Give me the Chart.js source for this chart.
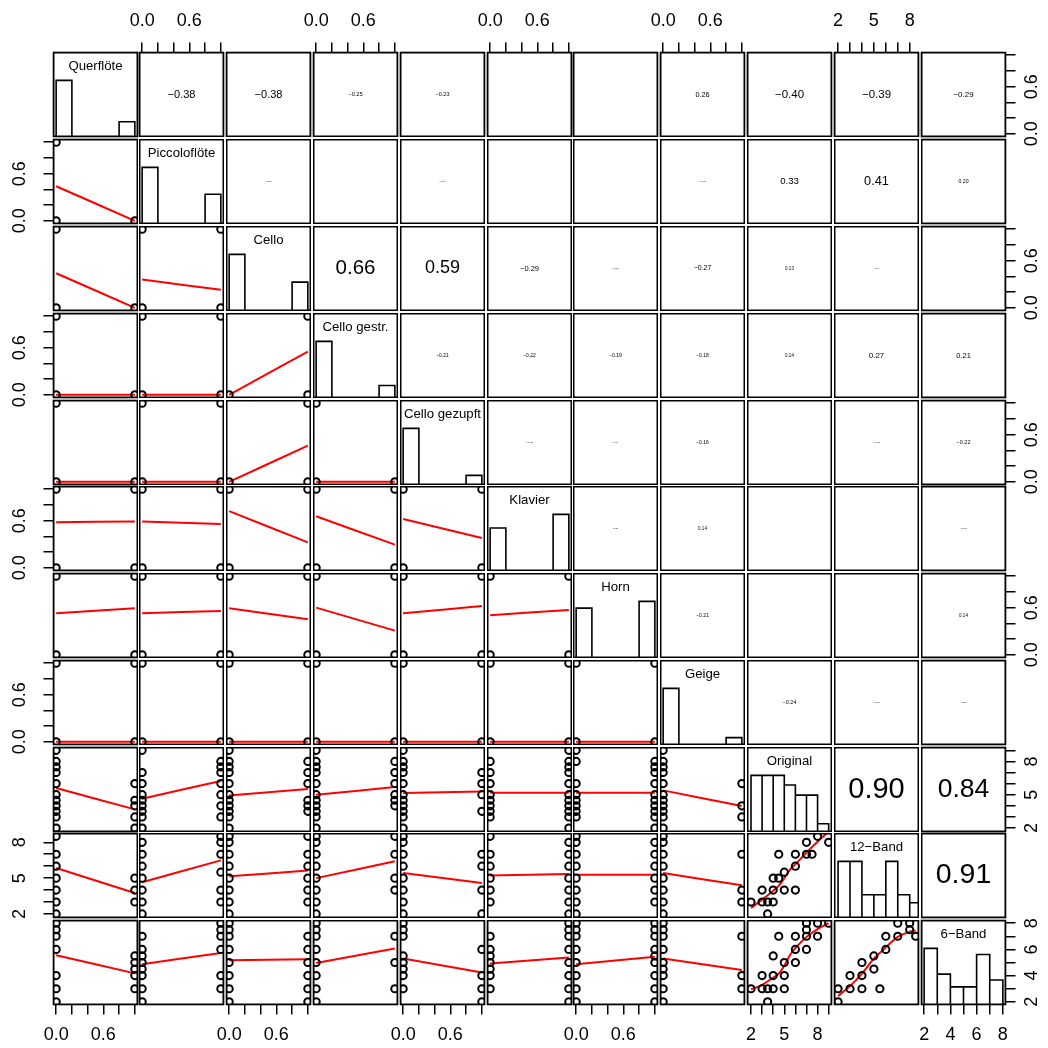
<!DOCTYPE html>
<html>
<head>
<meta charset="utf-8">
<script src="https://cdn.jsdelivr.net/npm/chart.js@4.4.1/dist/chart.umd.min.js"></script>
<style>
  html, body { margin: 0; padding: 0; background: #fff; }
  #page { position: relative; width: 1048px; height: 1048px; overflow: hidden; background: #fff; }
  #page canvas { position: absolute; }
</style>
</head>
<body>
<div id="page"></div>
<script>
const varNames = ['Querflöte', 'Piccoloflöte', 'Cello', 'Cello gestr.', 'Cello gezupft', 'Klavier', 'Horn', 'Geige', 'Original', '12\u2212Band', '6\u2212Band'];

// axis ranges and ticks
const binRange = [-0.04, 1.04];
const binTicks = [0, 0.2, 0.4, 0.6, 0.8, 1];
const binTickLabels = ['0.0', '', '', '0.6', '', ''];
const originalRange = [1.64, 9.3];
const originalTicks = [2, 3, 4, 5, 6, 7, 8, 9];
const originalTickLabels = ['2', '', '', '5', '', '', '8', ''];
const band12Range = [1.66, 8.78];
const band12Ticks = [2, 3, 4, 5, 6, 7, 8];
const band12TickLabels = ['2', '', '', '5', '', '', '8'];
const band6Range = [1.76, 8.24];
const band6Ticks = [2, 3, 4, 5, 6, 7, 8];
const band6TickLabels = ['2', '', '4', '', '6', '', '8'];

// histograms (bar heights relative to the tallest bar)
const binBreaks = [0, 0.2, 0.4, 0.6, 0.8, 1];
const binHistAt0 = [1, 1, 1, 1, 1, 0.76, 0.88, 1];
const binHistAt1 = [0.27, 0.525, 0.51, 0.22, 0.17, 1, 1, 0.13];
const originalBreaks = [2, 3, 4, 5, 6, 7, 8, 9];
const originalHist = [1, 1, 1, 0.83, 0.65, 0.65, 0.145];
const band12Breaks = [2, 3, 4, 5, 6, 7, 8, 9];
const band12Hist = [1, 1, 0.41, 0.41, 1, 0.41, 0.27];
const band6Breaks = [2, 3, 4, 5, 6, 7, 8];
const band6Hist = [1, 0.545, 0.32, 0.32, 0.89, 0.44];

// upper panels, row by row
const corLabels = [
  '\u22120.38', '\u22120.38', '\u22120.25', '\u22120.23', '', '', '0.26', '\u22120.40', '\u22120.39', '\u22120.29',
  '\u22120.11', '', '\u22120.10', '', '', '\u22120.08', '0.33', '0.41', '0.20',
  '0.66', '0.59', '\u22120.29', '\u22120.11', '\u22120.27', '0.13', '0.11', '',
  '\u22120.21', '\u22120.22', '\u22120.19', '\u22120.18', '0.14', '0.27', '0.21',
  '\u22120.12', '0.09', '\u22120.16', '', '\u22120.12', '\u22120.22',
  '0.08', '0.14', '', '', '\u22120.10',
  '\u22120.21', '', '', '0.14',
  '\u22120.24', '\u22120.11', '\u22120.11',
  '0.90', '0.84',
  '0.91'
];
const corSizes = [
  11, 11, 5.7, 5.5, 0, 0, 7.3, 11.5, 11.5, 8,
  2.5, 0, 2.5, 0, 0, 2.5, 9.6, 12.8, 5.2,
  20.5, 18, 7.5, 2.5, 7, 4.5, 2.5, 0,
  5, 5, 5, 5, 4.5, 8, 7.5,
  2.5, 2.5, 5, 0, 2.5, 5.5,
  2.5, 4.5, 0, 0, 2.5,
  5, 0, 0, 4.5,
  5.5, 2.5, 2.5,
  29, 26.5,
  28.5
];

// binary vs binary: occupied corners (0,0) (0,1) (1,0) (1,1), rows 2..8
const cornerCodes = [
  ['1110'],
  ['1110', '1111'],
  ['1110', '1111', '1011'],
  ['1110', '1111', '1011', '1110'],
  ['1111', '1111', '1111', '1111', '1111'],
  ['1111', '1111', '1111', '1111', '1111', '1111'],
  ['1111', '1111', '1111', '1111', '1111', '1111', '1111']
];

// smoother line ends at x = 0 and x = 1, rows 2..11
const lineStart = [
  [0.44],
  [0.44, 0.36],
  [0, 0, 0],
  [0, 0, 0, 0],
  [0.58, 0.59, 0.72, 0.655, 0.62],
  [0.528, 0.528, 0.592, 0.6, 0.528, 0.503],
  [0, 0, 0, 0, 0, 0, 0],
  [5.6, 4.64, 4.94, 5.0, 5.15, 5.18, 5.18, 5.39],
  [5.85, 4.65, 5.15, 5.0, 5.43, 5.21, 5.29, 5.43],
  [5.55, 4.87, 5.17, 4.97, 5.3, 4.92, 4.87, 5.3]
];
const lineEnd = [
  [0],
  [0, 0.23],
  [0, 0, 0.55],
  [0, 0, 0.46, 0],
  [0.59, 0.557, 0.324, 0.295, 0.38],
  [0.592, 0.558, 0.452, 0.308, 0.621, 0.571],
  [0, 0, 0, 0, 0, 0, 0],
  [3.68, 6.24, 5.51, 5.69, 5.3, 5.18, 5.18, 3.98],
  [3.76, 6.49, 5.63, 6.41, 4.6, 5.35, 5.29, 4.4],
  [4.17, 5.73, 5.25, 6.06, 4.24, 5.38, 5.43, 4.42]
];

// rating values seen at instrument = 0 / = 1
const originalAt0 = [
  [9, 8, 7.5, 7, 6, 5, 4.5, 4, 3.5, 3, 2], [9, 7, 6, 5, 4.5, 4, 3.5, 3, 2],
  [9, 8, 7.5, 7, 6, 5, 4.5, 4, 3.5, 3, 2], [9, 8, 7.5, 7, 6, 5, 4.5, 4, 3.5, 3, 2],
  [9, 8, 7.5, 7, 6, 5, 4.5, 4, 3.5, 3, 2], [8, 7, 6, 5, 4.5, 4, 3.5, 3],
  [9, 8, 6, 5, 4.5, 4, 3.5, 3], [9, 8, 7.5, 7, 6, 5, 4.5, 4, 3.5, 3, 2]
];
const originalAt1 = [
  [6, 4.5, 4, 3, 2], [8, 7.5, 7, 6, 5, 4, 3], [8, 7, 6, 4.5, 4, 3.5], [8, 7, 6, 5, 4.5, 4],
  [7, 6, 5, 3.5], [9, 8, 7.5, 7, 6, 5, 4.5, 4, 3.5, 3, 2], [8, 7.5, 7, 6, 5, 4.5, 4, 3.5, 3, 2], [6, 4, 3]
];
const band12At0 = [
  [8.5, 7, 6, 5, 4, 3, 2], [8, 7, 6, 5, 4, 3, 2], [8.5, 8, 7, 6, 5, 4, 3, 2], [8.5, 8, 7, 6, 5, 4, 3, 2],
  [8.5, 8, 7, 6, 5, 4, 3, 2], [8.5, 7, 6, 5, 4, 3], [8.5, 8, 7, 6, 5, 4, 3, 2], [8.5, 8, 7, 6, 5, 4, 3, 2]
];
const band12At1 = [
  [5, 4, 3], [8.5, 8, 7, 5.5, 4, 3], [8.5, 7, 6, 5, 4, 3], [8.5, 7, 5, 4],
  [7, 6, 4, 2], [8, 7, 6, 5, 4, 3, 2], [8, 7, 6, 5, 4, 3], [7, 4, 3]
];
const band6At0 = [
  [8, 7.5, 7, 6, 4, 3, 2], [7, 6, 5.5, 5, 4.5, 4, 3, 2], [8, 7.5, 7, 6, 5, 4, 3, 2], [8, 7.5, 7, 6, 5, 4, 3, 2],
  [8, 7.5, 7, 5.5, 5, 4.5, 4, 3], [7, 6, 5.5, 5, 4.5, 4, 3], [8, 7.5, 7, 6, 5, 4, 3, 2], [8, 7.5, 7, 6, 5, 4.5, 4, 3, 2]
];
const band6At1 = [
  [5.5, 5, 4.5, 4, 3], [8, 7.5, 7, 6, 4, 3], [7, 6, 5, 4, 3, 2], [7, 5, 3],
  [6, 4, 3, 2], [8, 7.5, 7, 6, 5, 4, 3, 2], [8, 7.5, 7, 6, 5.5, 5, 4, 3, 2], [7, 4, 3]
];

// rating vs rating
const origVs12X = [2, 3.5, 3, 3.5, 4, 3, 4, 5, 6, 4, 4.5, 5, 6, 4.5, 6, 7, 7.5, 7, 8, 9];
const origVs12Y = [3, 2, 3, 3, 3, 4, 4, 4, 4, 5, 5, 5.5, 6, 7, 7, 7, 7, 8, 8.5, 8];
const origVs12CurveX = [2, 3, 4, 4.5, 5, 5.5, 6, 7, 8, 9];
const origVs12CurveY = [2.5, 3.2, 3.95, 4.35, 5.0, 5.7, 6.15, 7.15, 8.05, 8.9];
const origVs6X = [2, 3, 3.5, 4, 5, 3.5, 3, 4, 5, 4, 5, 6, 6, 7, 4.5, 6, 7, 8, 7, 7, 8, 9];
const origVs6Y = [3, 3, 3, 3, 3, 2, 4, 4, 4, 5.5, 5, 5, 6, 6, 7, 7, 7, 7, 7.5, 8, 8, 8];
const origVs6CurveX = [2, 3, 4, 4.5, 5, 5.5, 6, 7, 8, 9];
const origVs6CurveY = [2.95, 3.3, 3.85, 4.15, 4.75, 5.55, 6.1, 6.95, 7.55, 8.0];
const b12Vs6X = [2, 3, 4, 5.5, 3, 4, 4, 5, 5, 6, 6, 7, 7, 8, 8, 8.5, 2];
const b12Vs6Y = [3, 3, 3, 3, 4, 4, 5, 5.5, 4.5, 6, 7, 7, 8, 8, 7.5, 7, 2];
const b12Vs6CurveX = [2, 3, 4, 5, 6, 7, 8, 8.5];
const b12Vs6CurveY = [2.45, 3.2, 4.15, 5.3, 6.15, 6.95, 7.35, 7.45];

const FONT = "'Liberation Sans', Arial, Helvetica, sans-serif";
const N = varNames.length;
const PANEL = 85;
const TICK_LEN = 9.5;
const AXIS_FONT = 18;
const panelLeft = [];
const panelTop = [];
for (let k = 0; k < N; k++) {
    panelLeft.push(Math.round(52.5 + k * 86.8));
    panelTop.push(Math.round(52.3 + k * 86.8));
}

const measureCtx = document.createElement('canvas').getContext('2d');
function textWidth(str) {
    measureCtx.font = AXIS_FONT + 'px ' + FONT;
    return measureCtx.measureText(str).width;
}

function scaleInfo(v) {
    if (v < 8) return { range: binRange, ticks: binTicks, labels: binTickLabels };
    if (v === 8) return { range: originalRange, ticks: originalTicks, labels: originalTickLabels };
    if (v === 9) return { range: band12Range, ticks: band12Ticks, labels: band12TickLabels };
    return { range: band6Range, ticks: band6Ticks, labels: band6TickLabels };
}

// distance from the panel edge to the centre of the tick labels
const labelDist = { top: 31, bottom: 30, left: 33, right: 26 };

function makeScale(v, position, show, size) {
    const info = scaleInfo(v);
    const horizontal = position === 'top' || position === 'bottom';
    const widest = Math.max(...info.labels.map(textWidth));
    const lineHeight = AXIS_FONT * 1.2;
    const pad = horizontal ? labelDist[position] - TICK_LEN - lineHeight / 2
                           : labelDist[position] - TICK_LEN - widest / 2;
    return {
        type: 'linear',
        position: position,
        display: show,
        min: info.range[0],
        max: info.range[1],
        afterBuildTicks: sc => { sc.ticks = info.ticks.map(t => ({ value: t })); },
        afterFit: sc => {
            const s = show ? size : 0;
            if (horizontal) sc.height = s; else sc.width = s;
            sc.paddingLeft = 0; sc.paddingRight = 0; sc.paddingTop = 0; sc.paddingBottom = 0;
        },
        grid: { drawOnChartArea: false, drawTicks: true, tickLength: TICK_LEN, color: '#000', lineWidth: 1.5 },
        border: { display: false },
        ticks: {
            autoSkip: false,
            minRotation: horizontal ? 0 : 90,
            maxRotation: horizontal ? 0 : 90,
            crossAlign: horizontal ? 'near' : 'center',
            padding: pad,
            color: '#000',
            font: { family: FONT, size: AXIS_FONT },
            callback: (val, i) => info.labels[i]
        }
    };
}

const panelPlugin = {
    id: 'panelText',
    afterDraw(chart, args, opts) {
        const a = chart.chartArea;
        const ctx = chart.ctx;
        ctx.save();
        if (opts.text && opts.size > 0) {
            ctx.fillStyle = '#000';
            ctx.font = opts.size + 'px ' + FONT;
            ctx.textAlign = 'center';
            ctx.textBaseline = 'middle';
            const y = opts.atTop ? a.top + 14.5 : (a.top + a.bottom) / 2;
            ctx.fillText(opts.text, (a.left + a.right) / 2, y);
        }
        ctx.strokeStyle = '#000';
        ctx.lineWidth = 1.8;
        ctx.strokeRect(a.left + 0.6, a.top + 0.6, a.right - a.left - 1.2, a.bottom - a.top - 1.2);
        ctx.restore();
    }
};

function pointSet(xs, ys) {
    return {
        data: xs.map((x, i) => ({ x: x, y: ys[i] })),
        pointRadius: 3.6, pointBorderWidth: 2, pointBorderColor: '#000',
        pointBackgroundColor: 'rgba(0,0,0,0)', showLine: false, clip: 0
    };
}
function lineSet(xs, ys, color, yAxisID) {
    return {
        data: xs.map((x, i) => ({ x: x, y: ys[i] })),
        showLine: true, pointRadius: 0, borderColor: color, borderWidth: color === '#000' ? 1.6 : 2,
        tension: color === '#000' ? 0 : 0.35, fill: false, clip: 0, yAxisID: yAxisID || 'y'
    };
}
function histSet(breaks, heights) {
    const xs = [], ys = [];
    heights.forEach((h, i) => {
        xs.push(breaks[i], breaks[i], breaks[i + 1], breaks[i + 1]);
        ys.push(0, h, h, 0);
    });
    return lineSet(xs, ys, '#000', 'yh');
}

const contAt0 = [originalAt0, band12At0, band6At0];
const contAt1 = [originalAt1, band12At1, band6At1];

function lowerDatasets(r, c) {
    if (c < 8) {
        const xs = [], ys = [];
        if (r < 8) {
            const code = cornerCodes[r - 1][c];
            [[0, 0], [0, 1], [1, 0], [1, 1]].forEach((p, i) => {
                if (code[i] === '1') { xs.push(p[0]); ys.push(p[1]); }
            });
        } else {
            contAt0[r - 8][c].forEach(y => { xs.push(0); ys.push(y); });
            contAt1[r - 8][c].forEach(y => { xs.push(1); ys.push(y); });
        }
        return [pointSet(xs, ys), lineSet([0, 1], [lineStart[r - 1][c], lineEnd[r - 1][c]], '#FF0000')];
    }
    if (r === 9) return [pointSet(origVs12X, origVs12Y), lineSet(origVs12CurveX, origVs12CurveY, '#FF0000')];
    if (c === 8) return [pointSet(origVs6X, origVs6Y), lineSet(origVs6CurveX, origVs6CurveY, '#FF0000')];
    return [pointSet(b12Vs6X, b12Vs6Y), lineSet(b12Vs6CurveX, b12Vs6CurveY, '#FF0000')];
}

function diagDatasets(v) {
    if (v < 8) return [histSet(binBreaks, [binHistAt0[v], 0, 0, 0, binHistAt1[v]])];
    if (v === 8) return [histSet(originalBreaks, originalHist)];
    if (v === 9) return [histSet(band12Breaks, band12Hist)];
    return [histSet(band6Breaks, band6Hist)];
}

const page = document.getElementById('page');
let corIndex = 0;

for (let r = 0; r < N; r++) {
    for (let c = 0; c < N; c++) {
        const hasTop = r === 0 && c % 2 === 1;
        const hasBottom = r === N - 1 && c % 2 === 0;
        const hasLeft = c === 0 && r % 2 === 1;
        const hasRight = c === N - 1 && r % 2 === 0;
        const outerRow = r === 0 || r === N - 1;
        const outerCol = c === 0 || c === N - 1;
        const ext = {
            left: c === 0 ? panelLeft[0] : (outerRow ? 16 : 0),
            right: c === N - 1 ? 1048 - panelLeft[N - 1] - PANEL : (outerRow ? 16 : 0),
            top: r === 0 ? panelTop[0] : (outerCol ? 14 : 0),
            bottom: r === N - 1 ? 1048 - panelTop[N - 1] - PANEL : (outerCol ? 14 : 0)
        };

        const canvas = document.createElement('canvas');
        canvas.width = PANEL + ext.left + ext.right;
        canvas.height = PANEL + ext.top + ext.bottom;
        canvas.style.left = (panelLeft[c] - ext.left) + 'px';
        canvas.style.top = (panelTop[r] - ext.top) + 'px';
        page.appendChild(canvas);

        let datasets = [];
        let text = '', size = 0, atTop = false;
        if (r > c) {
            datasets = lowerDatasets(r, c);
        } else if (r === c) {
            datasets = diagDatasets(r);
            text = varNames[r]; size = 13.2; atTop = true;
        } else {
            text = corLabels[corIndex]; size = corSizes[corIndex];
            corIndex++;
        }

        const xPos = hasTop ? 'top' : 'bottom';
        const yPos = hasRight ? 'right' : 'left';
        const scales = {
            x: makeScale(c, xPos, hasTop || hasBottom, hasTop ? ext.top : ext.bottom),
            y: makeScale(r, yPos, hasLeft || hasRight, hasRight ? ext.right : ext.left)
        };
        if (r === c) scales.yh = { type: 'linear', display: false, min: 0, max: 1.5 };

        new Chart(canvas, {
            type: 'scatter',
            data: { datasets: datasets },
            options: {
                responsive: false,
                animation: false,
                devicePixelRatio: 1,
                events: [],
                layout: {
                    autoPadding: false,
                    padding: {
                        left: hasLeft ? 0 : ext.left,
                        right: hasRight ? 0 : ext.right,
                        top: hasTop ? 0 : ext.top,
                        bottom: hasBottom ? 0 : ext.bottom
                    }
                },
                plugins: {
                    legend: { display: false },
                    tooltip: { enabled: false },
                    panelText: { text: text, size: size, atTop: atTop }
                },
                scales: scales
            },
            plugins: [panelPlugin]
        });
    }
}
</script>
</body>
</html>
